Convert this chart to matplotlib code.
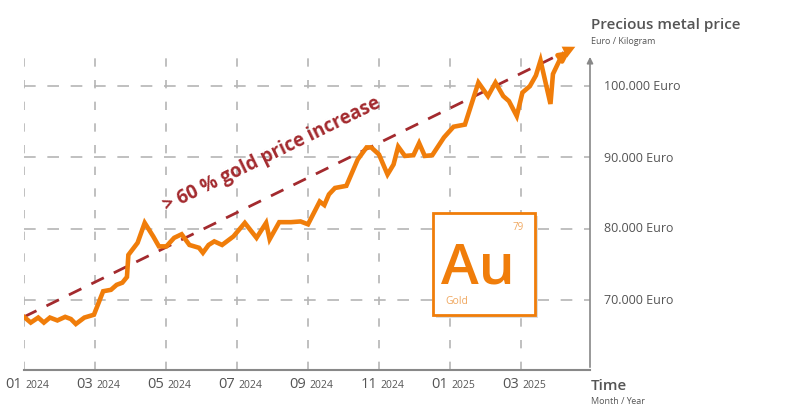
import matplotlib.pyplot as plt
from matplotlib.patches import Rectangle

# months since 01/2024
months = [0, 0.19, 0.40, 0.56, 0.73, 0.94, 1.16, 1.32, 1.46, 1.70, 1.97, 2.23, 2.45, 2.61,
          2.77, 2.90, 2.94, 3.20, 3.40, 3.64, 3.80, 4.01, 4.23, 4.44, 4.66, 4.93, 5.04, 5.20,
          5.36, 5.58, 5.90, 6.22, 6.55, 6.82, 6.92, 7.19, 7.52, 7.79, 8.00, 8.33, 8.46, 8.59,
          8.76, 9.08, 9.40, 9.65, 9.78, 10.0, 10.24, 10.41, 10.54, 10.73, 10.97, 11.13, 11.29,
          11.50, 11.83, 12.10, 12.42, 12.80, 13.07, 13.28, 13.50, 13.66, 13.88, 14.04, 14.25,
          14.42, 14.55, 14.83, 14.90, 15.12]
price = [67.6, 66.8, 67.5, 66.8, 67.5, 67.1, 67.6, 67.3, 66.6, 67.5, 67.9, 71.2, 71.4, 72.1,
         72.4, 73.2, 76.3, 78.0, 80.8, 78.9, 77.5, 77.5, 78.7, 79.2, 77.7, 77.3, 76.6, 77.7,
         78.2, 77.7, 78.9, 80.8, 78.7, 80.8, 78.5, 80.9, 80.9, 81.0, 80.6, 83.8, 83.3, 84.8,
         85.7, 86.0, 89.7, 91.4, 91.4, 90.4, 87.6, 89.0, 91.5, 90.2, 90.3, 92.0, 90.2,
         90.3, 92.8, 94.3, 94.6, 100.5, 98.6, 100.5, 98.6, 97.9, 95.8, 99.1, 100.0,
         101.5, 103.6, 97.5, 101.7, 104.0]
price = [p * 1000 for p in price]
line_end = (15.45, 105200)
trend = [(0, 67600), (15.6, 105700)]

tick_pos = [0, 2, 4, 6, 8, 10, 12, 14]
tick_month = ["01", "03", "05", "07", "09", "11", "01", "03"]
tick_year = ["2024"] * 6 + ["2025"] * 2
y_ticks = [70000, 80000, 90000, 100000]
y_labels = ["70.000 Euro", "80.000 Euro", "90.000 Euro", "100.000 Euro"]

orange = "#f07d0a"
darkred = "#a32a2e"
grey = "#555555"
gridc = "#b5b5b5"

W, H = 800, 418
fig = plt.figure(figsize=(8, 4.18), dpi=100)
ax = fig.add_axes([24 / W, 48 / H, 566 / W, 330 / H])
ax.set_xlim(0, (590 - 24) / 35.5)
ax.set_ylim(60140, 106480)
ax.axis("off")

# grid
for t in tick_pos:
    ax.plot([t, t], [60140, 104000], color=gridc, lw=1.2, ls=(0, (5, 8)), zorder=1)
for v in y_ticks:
    ax.plot([0, 16], [v, v], color=gridc, lw=1.2, ls=(0, (7, 7)), zorder=1)

# axis lines
ax.plot([0, (590 - 24) / 35.5], [60140, 60140], color="#888888", lw=1.5, clip_on=False)
ax.annotate("", xy=((590 - 24) / 35.5, 104500), xytext=((590 - 24) / 35.5, 60140),
            arrowprops=dict(arrowstyle="-|>", color="#888888", lw=1.2, mutation_scale=9))

# trend arrow
ax.plot([trend[0][0], trend[1][0] - 0.4], [trend[0][1], trend[1][1] - 980],
        color=darkred, lw=2, ls=(0, (5, 4)), zorder=3)
ax.annotate("", xy=trend[1], xytext=(trend[1][0] - 0.6, trend[1][1] - 1460),
            arrowprops=dict(arrowstyle="-|>", color=orange, lw=0, mutation_scale=22), zorder=5)

# price line
ax.plot(months, price, color=orange, lw=3.3, solid_joinstyle="miter", zorder=4)
ax.annotate("", xy=line_end, xytext=(months[-1], price[-1]),
            arrowprops=dict(arrowstyle="-|>", color=orange, lw=3.3, mutation_scale=14), zorder=4)

fig.text(272 / W, 1 - 155 / H, "> 60 % gold price increase", rotation=26, color=darkred,
         fontsize=13.5, fontweight="bold", ha="center", va="center", family="Open Sans")

# tick labels
for t, m, yr in zip(tick_pos, tick_month, tick_year):
    x = (24 + 35.5 * t) / W
    fig.text(x - 2 / W, 1 - 385 / H, m, fontsize=10.5, color=grey, ha="right", va="center",
             family="Open Sans")
    fig.text(x + 1 / W, 1 - 386 / H, yr, fontsize=7.5, color=grey, ha="left", va="center",
             family="Open Sans")
for v, lab in zip(y_ticks, y_labels):
    y = 87 + (100000 - v) / 10000 * 71
    fig.text(604 / W, 1 - y / H, lab, fontsize=9, color=grey, va="center", family="Open Sans")

fig.text(591 / W, 1 - 25 / H, "Precious metal price", fontsize=11, color=grey,
         fontweight="semibold", va="center", family="Open Sans")
fig.text(591 / W, 1 - 41 / H, "Euro / Kilogram", fontsize=6.5, color=grey, va="center",
         family="Open Sans")
fig.text(591 / W, 1 - 386 / H, "Time", fontsize=11, color=grey, fontweight="semibold",
         va="center", family="Open Sans")
fig.text(591 / W, 1 - 401 / H, "Month / Year", fontsize=6.5, color=grey, va="center",
         family="Open Sans")

# Au element box
fig.patches.append(Rectangle((436 / W, 1 - 318 / H), 102 / W, 102 / H, transform=fig.transFigure,
                             facecolor="#dddddd", edgecolor="none", zorder=5))
fig.patches.append(Rectangle((433 / W, 1 - 315 / H), 102 / W, 102 / H, transform=fig.transFigure,
                             facecolor="white", edgecolor=orange, lw=2, zorder=6))
fig.text(478 / W, 1 - 284 / H, "Au", fontsize=41, color=orange, fontweight="semibold",
         ha="center", va="baseline", family="Open Sans", zorder=7)
fig.text(524 / W, 1 - 228 / H, "79", fontsize=7, color="#f0a860", ha="right", va="center",
         family="Open Sans", zorder=7)
fig.text(445 / W, 1 - 302 / H, "Gold", fontsize=7.5, color="#f0a860", va="center",
         family="Open Sans", zorder=7)

fig.savefig("out.png", dpi=100)
